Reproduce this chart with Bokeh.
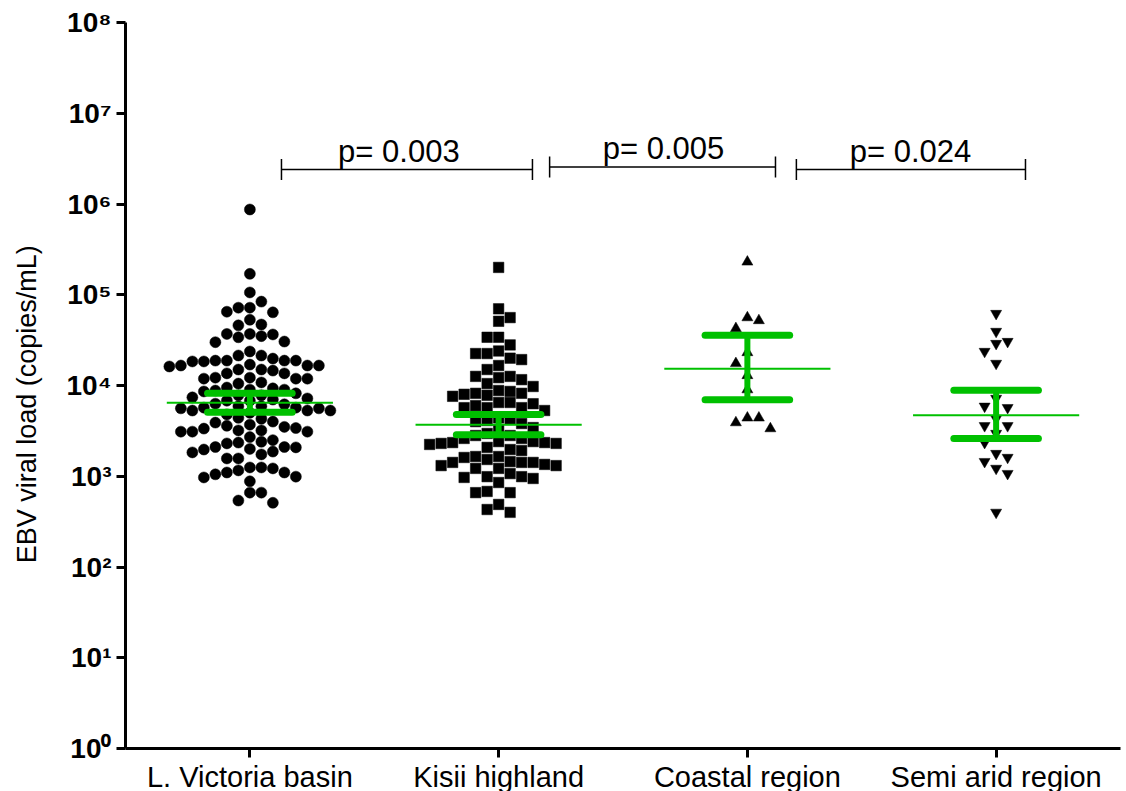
import numpy as np
from bokeh.plotting import figure
from bokeh.models import Range1d, FixedTicker, CustomJSTickFormatter
from bokeh.embed import file_html
from bokeh.resources import INLINE
from bokeh.core.properties import value

# ---------------- data ----------------
categories = ["L. Victoria basin", "Kisii highland", "Coastal region", "Semi arid region"]

victoria = [870000, 170000, 106000, 84000, 72000, 72000, 65000, 64000, 53000, 47000,
            46000, 37000, 37000, 36500, 35000, 34000, 30500, 30000, 23700, 21400,
            21400, 19800, 18800, 18800, 18800, 18800, 18400, 18400, 17000, 16600,
            16600, 16600, 16200, 15000, 15000, 14600, 13600, 13600, 12200, 12200,
            11900, 11900, 11900, 10800, 10500, 9500, 9300, 9000, 9000, 8800,
            8600, 8200, 7800, 7800, 7400, 7200, 7000, 6800, 6800, 6300,
            6200, 5900, 5900, 5700, 5700, 5600, 5600, 5300, 5300, 5300,
            5000, 4800, 4400, 4300, 4000, 3900, 3700, 3600, 3500, 3400,
            3350, 3200, 3200, 3100, 3100, 3100, 2700, 2500, 2400, 2350,
            2300, 2100, 2100, 2080, 2000, 1970, 1870, 1830, 1740, 1570,
            1570, 1250, 1250, 1220, 1160, 1100, 1100, 1050, 990, 970,
            880, 660, 660, 540, 510]

kisii = [200000, 70000, 56000, 51000, 34000, 34000, 28000, 24000, 22500, 22500,
         20000, 19300, 16600, 15000, 12600, 12600, 12200, 11600, 10500, 9750,
         8800, 8600, 8200, 8200, 8000, 7800, 7600, 6500, 6500, 6300,
         6000, 5700, 5700, 5700, 5300, 4400, 4220, 4110, 4000, 3810,
         3440, 3270, 2960, 2810, 2810, 2610, 2610, 2410, 2410, 2350,
         2350, 2300, 2300, 2240, 2080, 1970, 1920, 1650, 1650, 1610,
         1530, 1450, 1420, 1420, 1420, 1350, 1310, 1310, 1220, 1220,
         1070, 990, 990, 970, 945, 853, 680, 660, 660, 489, 430, 400]

coastal = [230000, 56000, 52000, 42500, 23100, 17500, 12900, 9000, 4400, 4400, 3900, 3350]

semi_arid = [62100, 39400, 30500, 29000, 23700, 17500, 7200, 5900, 5700, 4300,
             3600, 3600, 2960, 2350, 1780, 1610, 1450, 1220, 1070, 400]

geo_mean = [6440, 3690, 15300, 4710]
ci_low = [5080, 2860, 6950, 2610]
ci_high = [8230, 4790, 35800, 8870]

p_labels = ["p= 0.003", "p= 0.005", "p= 0.024"]

y_ticks = [10 ** k for k in range(9)]

# ---------------- layout constants ----------------
FRAME_W = 995
FRAME_H = 726
PX_PER_DECADE = FRAME_H / 8.0
CAT_PX = FRAME_W / 4.0
SLOT_PX = 11.5
GREEN = "#00C000"

markers = ["circle", "square", "triangle", "inverted_triangle"]
msizes = [11, 10.5, 11, 11]
groups = [victoria, kisii, coastal, semi_arid]


def swarm_offsets(vals, min_sep=11.0):
    ys = np.log10(np.asarray(vals, dtype=float)) * PX_PER_DECADE
    order = np.argsort(-ys, kind="stable")
    slots = {}
    offs = np.zeros(len(ys))
    toggle = 1
    for i in order:
        def free(k):
            return all(abs(ys[i] - yj) >= min_sep for yj in slots.get(k, []))
        placed = None
        if free(0):
            placed = 0
        else:
            for m in range(1, 40):
                fp, fm = free(m), free(-m)
                if fp and fm:
                    np_ = sum(len(v) for k, v in slots.items() if k > 0)
                    nm_ = sum(len(v) for k, v in slots.items() if k < 0)
                    if np_ < nm_:
                        placed = m
                    elif nm_ < np_:
                        placed = -m
                    else:
                        placed = m * toggle
                        toggle = -toggle
                    break
                elif fp:
                    placed = m
                    break
                elif fm:
                    placed = -m
                    break
        slots.setdefault(placed, []).append(ys[i])
        offs[i] = placed
    return offs * SLOT_PX / CAT_PX


p = figure(frame_width=FRAME_W, frame_height=FRAME_H,
           x_range=Range1d(0, 4), y_range=Range1d(1, 1e8), y_axis_type="log",
           output_backend="svg", toolbar_location=None,
           min_border_left=125, min_border_top=22, min_border_right=3, min_border_bottom=38)

p.outline_line_color = None
p.xgrid.visible = False
p.ygrid.visible = False

for gi, vals in enumerate(groups):
    xs = (gi + 0.5) + swarm_offsets(vals)
    p.scatter(xs, vals, marker=markers[gi], size=msizes[gi],
              fill_color="black", line_color="black", line_width=0.5)

# green geometric mean and CI
centers = np.arange(4) + 0.5
p.segment(x0=centers - 0.334, x1=centers + 0.334, y0=geo_mean, y1=geo_mean,
          line_color=GREEN, line_width=2)
p.segment(x0=centers, x1=centers, y0=ci_low, y1=ci_high,
          line_color=GREEN, line_width=6)
for ys in (ci_low, ci_high):
    p.segment(x0=centers - 0.17, x1=centers + 0.17, y0=ys, y1=ys,
              line_color=GREEN, line_width=7, line_cap="round")

# significance brackets (heights in decades above the axis bottom)
br_x0 = [0.627, 1.705, 2.697]
br_x1 = [1.636, 2.613, 3.618]
br_dec = [6.38, 6.408, 6.38]
br_y = np.array([10 ** d for d in br_dec])
tick_f = 10 ** (10.5 / PX_PER_DECADE)
text_x = [1.099, 2.163, 3.156]
text_f = 10 ** (1.0 / PX_PER_DECADE)
p.segment(x0=br_x0, x1=br_x1, y0=br_y, y1=br_y, line_color="black", line_width=1.5)
p.segment(x0=br_x0, x1=br_x0, y0=br_y / tick_f, y1=br_y * tick_f, line_color="black", line_width=1.5)
p.segment(x0=br_x1, x1=br_x1, y0=br_y / tick_f, y1=br_y * tick_f, line_color="black", line_width=1.5)
p.text(x=text_x, y=br_y * text_f, text=p_labels, text_align="center", text_baseline="bottom",
       text_font=value("Liberation Sans"), text_font_size="31px", text_color="black")

# axes
p.xaxis.ticker = FixedTicker(ticks=list(centers))
p.xaxis.major_label_overrides = {float(c): lab for c, lab in zip(centers, categories)}
p.xaxis.major_label_text_font = "Liberation Sans"
p.xaxis.major_label_text_font_size = "29px"
p.xaxis.major_label_text_color = "black"
p.xaxis.major_label_standoff = 3
p.xaxis.minor_tick_line_color = None

p.yaxis.ticker = FixedTicker(ticks=y_ticks, minor_ticks=[])
p.yaxis.formatter = CustomJSTickFormatter(code="""
const sup = ["\u2070","\u00b9","\u00b2","\u00b3","\u2074","\u2075","\u2076","\u2077","\u2078","\u2079"];
const e = Math.round(Math.log10(tick));
return "10" + sup[e];
""")
p.yaxis.major_label_text_font = "Liberation Sans"
p.yaxis.major_label_text_font_style = "bold"
p.yaxis.major_label_text_font_size = "28px"
p.yaxis.major_label_text_color = "black"
p.yaxis.major_label_standoff = 5
p.yaxis.minor_tick_line_color = None
# trailing non-breaking spaces nudge the centred label slightly downward, as in the original
p.yaxis.axis_label = "EBV viral load (copies/mL)" + "\u00a0" * 5
p.yaxis.axis_label_text_font = "Liberation Sans"
p.yaxis.axis_label_text_font_style = "normal"
p.yaxis.axis_label_text_font_size = "27px"
p.yaxis.axis_label_text_color = "black"
p.yaxis.axis_label_standoff = 22

for ax in (p.xaxis, p.yaxis):
    ax.axis_line_width = 3
    ax.axis_line_color = "black"
    ax.major_tick_line_width = 3
    ax.major_tick_line_color = "black"
    ax.major_tick_out = 9
    ax.major_tick_in = 0

with open("out.html", "w", encoding="utf-8") as f:
    f.write(file_html(p, INLINE))
